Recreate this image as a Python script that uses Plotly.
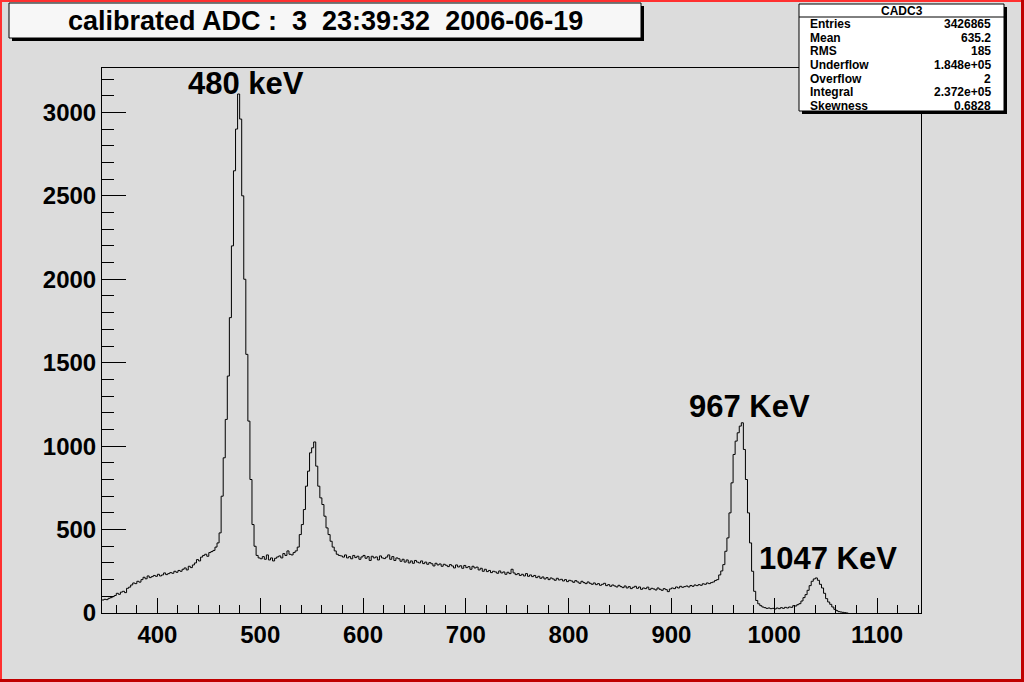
import numpy as np
import plotly.graph_objects as go

# ---------------- data (2 keV bins) ----------------
BIN_W = 2.0
# segment start edges (keV)
start_bg_low = 346
bg_low = [78, 82, 80, 88, 92, 98, 105, 118, 112, 125,
          130, 122, 148, 155, 168, 180, 176, 190, 185, 200,
          214, 205, 222, 212, 218, 225, 220, 232, 222, 228,
          240, 230, 236, 242, 238, 250, 244, 255, 250, 262,
          270, 258, 280, 272, 288, 300, 320, 312, 335, 345,
          352, 340, 362, 368, 375]
start_peak_480 = 456
peak_480 = [395, 420, 480, 700, 930, 1160, 1420, 1770, 2200, 2650,
            2900, 3110, 2960, 2500, 2000, 1550, 1150, 800, 530, 400,
            345, 330]
start_valley = 500
valley = [325, 338, 322, 348, 318, 330, 312, 328, 336, 342,
          330, 356, 345, 372, 352, 348, 362]
start_peak_550 = 534
peak_550 = [372, 395, 470, 530, 620, 760, 850, 960, 990, 1025,
            880, 760, 690, 650, 580, 510, 470, 430, 395, 372,
            352, 345]
start_bg_mid = 578
bg_mid = [342, 335, 348, 330, 338, 325, 345, 332, 340, 322,
          336, 345, 328, 338, 315, 340, 330, 336, 318, 342,
          330, 326, 335, 348, 322, 338, 315, 330, 325, 310,
          322, 305, 318, 300, 312, 298, 315, 305, 300, 312,
          296, 305, 292, 302, 295, 282, 298, 288, 294, 280,
          292, 286, 278, 290, 282, 270, 288, 276, 283, 268,
          285, 272, 278, 262, 280, 270, 275, 258, 268, 250,
          262, 248, 255, 242, 250, 246, 238, 252, 240, 246,
          232, 244, 236, 262, 240, 230, 236, 225, 232, 222,
          236, 220, 228, 218, 225, 212, 220, 208, 216, 204,
          212, 200, 210, 204, 196, 208, 198, 202, 192, 200,
          188, 196, 192, 184, 194, 186, 178, 190, 182, 176,
          186, 178, 172, 180, 170, 176, 166, 172, 178, 164,
          170, 160, 168, 162, 156, 166, 158, 152, 162, 150,
          158, 146, 154, 160, 148, 156, 142, 150, 146, 155,
          140, 148, 144, 138, 150, 142, 136, 146, 140, 128,
          144, 150, 146, 156, 150, 160, 154, 158, 162, 156,
          165, 160, 168, 164, 170, 166, 175, 172, 180]
start_peak_high = 936
peak_high = [176, 182, 186, 195, 200, 228, 252, 290, 370, 450,
             600, 780, 950, 1030, 1080, 1120, 1140, 980, 800, 600,
             420, 250, 130, 75, 55, 44, 36, 32, 28, 30,
             26, 28, 24, 30, 26, 32, 28, 34, 30, 36,
             34, 44, 42, 50, 56, 72, 92, 110, 136, 164,
             190, 204, 210, 196, 172, 150, 118, 86, 66, 52,
             36, 22, 14, 8, 6, 4, 2, 0]

segments = [(start_bg_low, bg_low), (start_peak_480, peak_480),
            (start_valley, valley), (start_peak_550, peak_550),
            (start_bg_mid, bg_mid), (start_peak_high, peak_high)]

edges, counts = [], []
for s, vals in segments:
    for i, v in enumerate(vals):
        edges.append(s + BIN_W * i)
        counts.append(v)
xs = edges + [edges[-1] + BIN_W]
ys = counts + [counts[-1]]

x_range = [346.1, 1142.8]
y_range = [0, 3266]
x_ticks = [400, 500, 600, 700, 800, 900, 1000, 1100]
y_ticks = [0, 500, 1000, 1500, 2000, 2500, 3000]

title_text = "calibrated ADC :\u00a0\u00a03\u00a0\u00a023:39:32\u00a0\u00a02006-06-19"
stat_name = "CADC3"
stat_labels = ["Entries", "Mean", "RMS", "Underflow", "Overflow", "Integral", "Skewness"]
stat_values = ["3426865", "635.2", "185", "1.848e+05", "2", "2.372e+05", "0.6828"]
peak_labels = [("480 keV", 486, 3172), ("967 KeV", 976, 1240), ("1047 KeV", 1052, 328)]

# ---------------- layout helpers ----------------
W, H = 1024, 682
L, R, T, B = 102, 103, 68, 69
PW, PH = W - L - R, H - T - B


def fx(px):
    return (px - L) / PW


def fy(py):
    return (H - B - py) / PH


BG = "#dcdcdc"
FONT = "Liberation Sans"

fig = go.Figure()
fig.add_trace(go.Scatter(x=xs, y=ys, mode="lines", line=dict(color="black", width=1, shape="hv"),
                         hoverinfo="skip", showlegend=False))

shapes = []


def rect(x0, y0, x1, y1, fill, line_color=None, lw=0):
    shapes.append(dict(type="rect", xref="paper", yref="paper",
                       x0=fx(x0), x1=fx(x1), y0=fy(y0), y1=fy(y1),
                       fillcolor=fill, line=dict(color=line_color or fill, width=lw), layer="above"))


# canvas border
rect(0, 0, W, 2, "#ff3030")
rect(0, 0, 2, H, "#ff3030")
rect(0, H - 3, W, H, "#c00000")
rect(W - 3, 0, W, H, "#c00000")

# title box with shadow
rect(12, 6, 644, 41, "black")
rect(9, 3, 641, 38, "#f7f7f7", "black", 1)

# stats box with shadow
rect(802, 7, 1007, 114, "black")
rect(799, 4, 1004, 111, "white", "black", 1)
shapes.append(dict(type="line", xref="paper", yref="paper", x0=fx(799), x1=fx(1004),
                   y0=fy(17), y1=fy(17), line=dict(color="black", width=1), layer="above"))

annotations = []
annotations.append(dict(text=title_text, xref="paper", yref="paper", x=fx(325), y=fy(21),
                        xanchor="center", yanchor="middle", showarrow=False,
                        font=dict(family=FONT, size=27, color="black", weight="bold")))
annotations.append(dict(text=stat_name, xref="paper", yref="paper", x=fx(901.5), y=fy(10.5),
                        xanchor="center", yanchor="middle", showarrow=False,
                        font=dict(family=FONT, size=12, color="black", weight="bold")))
for i, (lab, val) in enumerate(zip(stat_labels, stat_values)):
    yy = 24 + 13.7 * i
    annotations.append(dict(text=lab, xref="paper", yref="paper", x=fx(808), y=fy(yy),
                            xanchor="left", yanchor="middle", showarrow=False,
                            font=dict(family=FONT, size=12, color="black", weight="bold")))
    annotations.append(dict(text=val, xref="paper", yref="paper", x=fx(993), y=fy(yy),
                            xanchor="right", yanchor="middle", showarrow=False,
                            font=dict(family=FONT, size=12, color="black", weight="bold")))
for txt, xv, yv in peak_labels:
    annotations.append(dict(text=txt, x=xv, y=yv, xref="x", yref="y", xanchor="center",
                            yanchor="middle", showarrow=False,
                            font=dict(family=FONT, size=31, color="black", weight="bold")))

tickfont = dict(family=FONT, size=24, color="black", weight="bold")
fig.update_layout(
    width=W, height=H, margin=dict(l=L, r=R, t=T, b=B, pad=0),
    paper_bgcolor=BG, plot_bgcolor=BG,
    shapes=shapes, annotations=annotations, showlegend=False,
    xaxis=dict(range=x_range, tickvals=x_ticks, ticks="inside", ticklen=15, tickwidth=1,
               tickcolor="black", showgrid=False, zeroline=False, showline=True,
               linecolor="black", linewidth=1, mirror=True, tickfont=tickfont,
               minor=dict(dtick=20, tick0=0, ticks="inside", ticklen=8, tickcolor="black", showgrid=False)),
    yaxis=dict(range=y_range, tickvals=y_ticks, ticks="inside", ticklen=24, tickwidth=1,
               tickcolor="black", showgrid=False, zeroline=False, showline=True,
               linecolor="black", linewidth=1, mirror=True, tickfont=tickfont,
               minor=dict(dtick=100, tick0=0, ticks="inside", ticklen=12, tickcolor="black", showgrid=False)),
)

fig.write_html("out.html", config={"displayModeBar": False, "staticPlot": True},
               post_script="document.body.style.margin='0';document.body.style.overflow='hidden';")
